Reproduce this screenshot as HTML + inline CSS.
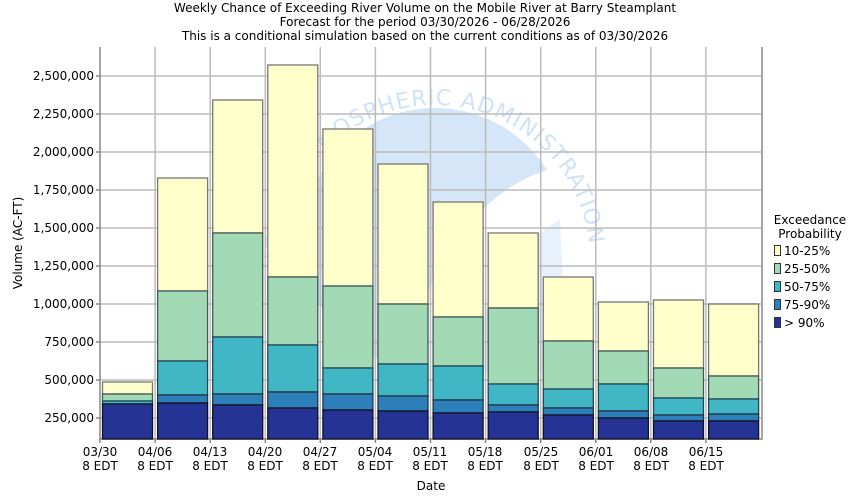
<!DOCTYPE html>
<html><head><meta charset="utf-8"><style>html,body{margin:0;padding:0;background:#fff}svg{display:block}text{font-family:"DejaVu Sans","Liberation Sans",sans-serif;font-size:12px;fill:#000}</style></head>
<body>
<svg width="850" height="500" viewBox="0 0 850 500" xmlns="http://www.w3.org/2000/svg">
<text x="425" y="12" text-anchor="middle">Weekly Chance of Exceeding River Volume on the Mobile River at Barry Steamplant</text>
<text x="425" y="26" text-anchor="middle">Forecast for the period 03/30/2026 - 06/28/2026</text>
<text x="425" y="40" text-anchor="middle">This is a conditional simulation based on the current conditions as of 03/30/2026</text>
<!-- watermark -->
<circle cx="435" cy="240" r="132" fill="#d4e6f8"/>
<path d="M548,170 C480,190 430,260 400,372 L567,372 L567,170 Z" fill="#fff"/>
<path d="M560,220 C520,240 480,300 470,372 L567,372 Z" fill="#e8f1fb"/>
<path id="arc" d="M280,260 A155,155 0 0 1 590,260" fill="none"/>
<text style="font-size:22px;fill:#cfe2f7;letter-spacing:1px"><textPath href="#arc">IC AND ATMOSPHERIC ADMINISTRATION</textPath></text>
<g stroke="#bbb" stroke-width="1.5" fill="none">
<path d="M100,76H761M100,114H761M100,152H761M100,190H761M100,228H761M100,266H761M100,304H761M100,342H761M100,380H761M100,418H761"/>
<path d="M155.1,47V439M210.2,47V439M265.3,47V439M320.3,47V439M375.4,47V439M430.5,47V439M485.6,47V439M540.7,47V439M595.8,47V439M650.8,47V439M705.9,47V439"/>
</g>
<g stroke="#888" stroke-width="1.5" fill="none">
<path d="M100,47V439H762V47"/>
<path d="M100,439v4M155.1,439v4M210.2,439v4M265.3,439v4M320.3,439v4M375.4,439v4M430.5,439v4M485.6,439v4M540.7,439v4M595.8,439v4M650.8,439v4M705.9,439v4M96,76h4M96,114h4M96,152h4M96,190h4M96,228h4M96,266h4M96,304h4M96,342h4M96,380h4M96,418h4"/>
</g>
<g stroke-width="1.3">
<g stroke="#777" fill="#ffffcc">
<rect x="102.5" y="382" width="50" height="12"/>
<rect x="157.6" y="178" width="50" height="113"/>
<rect x="212.7" y="100" width="50" height="133"/>
<rect x="267.8" y="65" width="50" height="212"/>
<rect x="322.9" y="129" width="50" height="157"/>
<rect x="378.0" y="164" width="50" height="140"/>
<rect x="433.1" y="202" width="50" height="115"/>
<rect x="488.2" y="233" width="50" height="75"/>
<rect x="543.3" y="277" width="50" height="64"/>
<rect x="598.4" y="302" width="50" height="49"/>
<rect x="653.5" y="300" width="50" height="68"/>
<rect x="708.6" y="304" width="50" height="72"/>
</g>
<g stroke="#455" fill="#a1dab4">
<rect x="102.5" y="394" width="50" height="7"/>
<rect x="157.6" y="291" width="50" height="70"/>
<rect x="212.7" y="233" width="50" height="104"/>
<rect x="267.8" y="277" width="50" height="68"/>
<rect x="322.9" y="286" width="50" height="82"/>
<rect x="378.0" y="304" width="50" height="60"/>
<rect x="433.1" y="317" width="50" height="49"/>
<rect x="488.2" y="308" width="50" height="76"/>
<rect x="543.3" y="341" width="50" height="48"/>
<rect x="598.4" y="351" width="50" height="33"/>
<rect x="653.5" y="368" width="50" height="30"/>
<rect x="708.6" y="376" width="50" height="23"/>
</g>
<g stroke="#245" fill="#41b6c4">
<rect x="102.5" y="401" width="50" height="3"/>
<rect x="157.6" y="361" width="50" height="34"/>
<rect x="212.7" y="337" width="50" height="57"/>
<rect x="267.8" y="345" width="50" height="47"/>
<rect x="322.9" y="368" width="50" height="26"/>
<rect x="378.0" y="364" width="50" height="32"/>
<rect x="433.1" y="366" width="50" height="34"/>
<rect x="488.2" y="384" width="50" height="21"/>
<rect x="543.3" y="389" width="50" height="19"/>
<rect x="598.4" y="384" width="50" height="27"/>
<rect x="653.5" y="398" width="50" height="17"/>
<rect x="708.6" y="399" width="50" height="15"/>
</g>
<g stroke="#234" fill="#2c7fb8">
<rect x="157.6" y="395" width="50" height="8"/>
<rect x="212.7" y="394" width="50" height="11"/>
<rect x="267.8" y="392" width="50" height="16"/>
<rect x="322.9" y="394" width="50" height="16"/>
<rect x="378.0" y="396" width="50" height="15"/>
<rect x="433.1" y="400" width="50" height="13"/>
<rect x="488.2" y="405" width="50" height="7"/>
<rect x="543.3" y="408" width="50" height="7"/>
<rect x="598.4" y="411" width="50" height="7"/>
<rect x="653.5" y="415" width="50" height="6"/>
<rect x="708.6" y="414" width="50" height="7"/>
</g>
<g stroke="#112" fill="#253494">
<rect x="102.5" y="404" width="50" height="35"/>
<rect x="157.6" y="403" width="50" height="36"/>
<rect x="212.7" y="405" width="50" height="34"/>
<rect x="267.8" y="408" width="50" height="31"/>
<rect x="322.9" y="410" width="50" height="29"/>
<rect x="378.0" y="411" width="50" height="28"/>
<rect x="433.1" y="413" width="50" height="26"/>
<rect x="488.2" y="412" width="50" height="27"/>
<rect x="543.3" y="415" width="50" height="24"/>
<rect x="598.4" y="418" width="50" height="21"/>
<rect x="653.5" y="421" width="50" height="18"/>
<rect x="708.6" y="421" width="50" height="18"/>
</g>
</g>
<g text-anchor="end">
<text x="94" y="80">2,500,000</text><text x="94" y="118">2,250,000</text><text x="94" y="156">2,000,000</text><text x="94" y="194">1,750,000</text><text x="94" y="232">1,500,000</text><text x="94" y="270">1,250,000</text><text x="94" y="308">1,000,000</text><text x="94" y="346">750,000</text><text x="94" y="384">500,000</text><text x="94" y="422">250,000</text>
</g>
<g text-anchor="middle">
<text x="100" y="456">03/30</text><text x="100" y="470">8 EDT</text>
<text x="155" y="456">04/06</text><text x="155" y="470">8 EDT</text>
<text x="210" y="456">04/13</text><text x="210" y="470">8 EDT</text>
<text x="265" y="456">04/20</text><text x="265" y="470">8 EDT</text>
<text x="320" y="456">04/27</text><text x="320" y="470">8 EDT</text>
<text x="375" y="456">05/04</text><text x="375" y="470">8 EDT</text>
<text x="430" y="456">05/11</text><text x="430" y="470">8 EDT</text>
<text x="485" y="456">05/18</text><text x="485" y="470">8 EDT</text>
<text x="541" y="456">05/25</text><text x="541" y="470">8 EDT</text>
<text x="596" y="456">06/01</text><text x="596" y="470">8 EDT</text>
<text x="651" y="456">06/08</text><text x="651" y="470">8 EDT</text>
<text x="706" y="456">06/15</text><text x="706" y="470">8 EDT</text>
<text x="431" y="490">Date</text>
<text transform="translate(22,243) rotate(-90)">Volume (AC-FT)</text>
<text x="810" y="224">Exceedance</text>
<text x="810" y="238">Probability</text>
</g>
<g stroke="#333" stroke-width="1">
<rect x="774.5" y="245.5" width="6" height="10" fill="#ffffcc"/>
<rect x="774.5" y="263.5" width="6" height="10" fill="#a1dab4"/>
<rect x="774.5" y="281.5" width="6" height="10" fill="#41b6c4"/>
<rect x="774.5" y="299.5" width="6" height="10" fill="#2c7fb8"/>
<rect x="774.5" y="317.5" width="6" height="10" fill="#253494"/>
</g>
<text x="784" y="255">10-25%</text><text x="784" y="273">25-50%</text><text x="784" y="291">50-75%</text><text x="784" y="309">75-90%</text><text x="784" y="327">&gt; 90%</text>
</svg>
</body></html>
